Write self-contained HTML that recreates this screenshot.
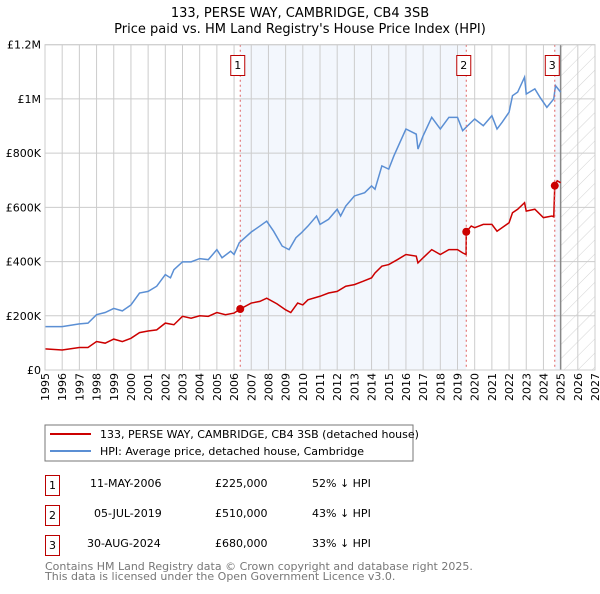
<!DOCTYPE html>
<html><head><meta charset="utf-8"><style>
body{margin:0;background:#fff;font-family:"DejaVu Sans","Liberation Sans",sans-serif;}
svg text{font-family:"DejaVu Sans","Liberation Sans",sans-serif;}
</style></head><body>
<svg id="c" width="600" height="590" xmlns="http://www.w3.org/2000/svg">
<defs><pattern id="h" width="10" height="10" patternUnits="userSpaceOnUse" patternTransform="rotate(45)"><line x1="0" y1="0" x2="0" y2="10" stroke="#d4d4d4" stroke-width="1"/></pattern></defs>
<text x="300" y="17" text-anchor="middle" font-size="13">133, PERSE WAY, CAMBRIDGE, CB4 3SB</text>
<text x="300" y="33" text-anchor="middle" font-size="13">Price paid vs. HM Land Registry's House Price Index (HPI)</text>
<g id="plot"></g>
<rect x="45" y="425" width="368" height="36" fill="#fff" stroke="#777"/>
<line x1="50" y1="434" x2="91" y2="434" stroke="#cc0000" stroke-width="2"/>
<text x="100" y="438" font-size="11">133, PERSE WAY, CAMBRIDGE, CB4 3SB (detached house)</text>
<line x1="50" y1="451" x2="91" y2="451" stroke="#5b8fd4" stroke-width="2"/>
<text x="100" y="455" font-size="11">HPI: Average price, detached house, Cambridge</text>
<g font-size="11">
<rect x="45.5" y="475.5" width="14" height="20" fill="none" stroke="#b00"/><text x="52.5" y="489" text-anchor="middle">1</text>
<text x="90" y="487">11-MAY-2006</text><text x="215" y="487">£225,000</text><text x="312" y="487">52% ↓ HPI</text>
<rect x="45.5" y="505.5" width="14" height="20" fill="none" stroke="#b00"/><text x="52.5" y="519" text-anchor="middle">2</text>
<text x="94" y="517">05-JUL-2019</text><text x="215" y="517">£510,000</text><text x="312" y="517">43% ↓ HPI</text>
<rect x="45.5" y="535.5" width="14" height="20" fill="none" stroke="#b00"/><text x="52.5" y="549" text-anchor="middle">3</text>
<text x="87" y="547">30-AUG-2024</text><text x="215" y="547">£680,000</text><text x="312" y="547">33% ↓ HPI</text>
</g>
<text x="45" y="570" font-size="11" fill="#777">Contains HM Land Registry data © Crown copyright and database right 2025.</text>
<text x="45" y="580" font-size="11" fill="#777">This data is licensed under the Open Government Licence v3.0.</text>
</svg>
<script>
const yTicks=[0,200000,400000,600000,800000,1000000,1200000];
const yLabels=["£0","£200K","£400K","£600K","£800K","£1M","£1.2M"];
const years=[1995,1996,1997,1998,1999,2000,2001,2002,2003,2004,2005,2006,2007,2008,2009,2010,2011,2012,2013,2014,2015,2016,2017,2018,2019,2020,2021,2022,2023,2024,2025,2026,2027];
const hpiT=[1995,1996,1997,1997.5,1998,1998.5,1999,1999.5,2000,2000.5,2001,2001.5,2002,2002.3,2002.5,2003,2003.5,2004,2004.5,2005,2005.3,2005.8,2006,2006.3,2007,2007.5,2007.9,2008.3,2008.8,2009.2,2009.6,2009.9,2010.3,2010.8,2011,2011.5,2012,2012.2,2012.5,2013,2013.6,2014,2014.2,2014.6,2015,2015.3,2016,2016.6,2016.7,2017,2017.5,2018,2018.5,2019,2019.3,2019.8,2020,2020.5,2021,2021.3,2021.6,2022,2022.2,2022.5,2022.9,2023,2023.5,2023.8,2024.2,2024.6,2024.7,2025];
const hpiV=[160,160,170,173,204,212,227,218,240,284,290,309,352,340,370,399,399,411,407,444,414,438,426,469,509,531,549,512,457,444,488,505,531,568,537,556,593,568,605,642,654,679,667,753,741,790,889,870,815,864,932,889,932,932,883,914,926,901,938,889,914,951,1012,1025,1080,1018,1037,1006,969,1000,1049,1025];
const ppT=[1995,1996,1997,1997.5,1998,1998.5,1999,1999.5,2000,2000.5,2001,2001.5,2002,2002.5,2003,2003.5,2004,2004.5,2005,2005.5,2006,2006.36,2007,2007.5,2007.9,2008.5,2009,2009.3,2009.7,2010,2010.3,2011,2011.5,2012,2012.5,2013,2013.5,2014,2014.2,2014.6,2015,2015.5,2016,2016.6,2016.7,2017,2017.5,2018,2018.5,2019,2019.3,2019.5,2019.51,2019.8,2020,2020.5,2021,2021.3,2022,2022.2,2022.5,2022.9,2023,2023.5,2024,2024.5,2024.6,2024.66,2024.8,2025];
const ppV=[78,74,83,83,105,99,114,105,117,138,144,148,173,167,198,191,200,198,212,204,210,225,247,253,265,244,222,212,247,240,259,272,284,290,309,315,327,340,358,383,389,407,426,420,395,414,444,426,444,444,432,426,510,531,525,537,537,512,543,580,593,617,586,593,562,568,565,680,698,691];
const saleT=[2006.36,2019.51,2024.66];
const saleV=[225000,510000,680000];
const saleLabels=["1","2","3"];
const L=45,R=595,T=44.7,B=370;
const x=t=>L+(t-1995)*(R-L)/32;
const y=v=>B-v*(B-T)/1200000;
const NS="http://www.w3.org/2000/svg";
const g=document.getElementById('plot');
function mk(tag,a){const e=document.createElementNS(NS,tag);for(const k in a)e.setAttribute(k,a[k]);g.appendChild(e);return e;}
let e;
e=mk('rect',{x:x(saleT[0]),y:T,width:x(saleT[1])-x(saleT[0]),height:B-T,fill:'#eef3fc',opacity:0.7});


e=mk('rect',{x:x(saleT[2]),y:T,width:x(2025)-x(saleT[2]),height:B-T,fill:'#eef3fc',opacity:0.7});


e=mk('rect',{x:x(2025),y:T,width:R-x(2025),height:B-T,fill:'url(#h)'});


years.forEach(yr=>{
 e=mk('line',{x1:x(yr),x2:x(yr),y1:T,y2:B,stroke:'#ccc'});
 
 
 e=mk('text',{x:0,y:0,'font-size':11,'text-anchor':'end',transform:`translate(${x(yr)+4},${B+3}) rotate(-90)`});
 e.textContent=yr;
 
 
});
yTicks.forEach((v,i)=>{
 e=mk('line',{x1:L,x2:R,y1:y(v),y2:y(v),stroke:'#ccc'});
 
 
 e=mk('text',{x:L-4,y:y(v)+4,'font-size':11,'text-anchor':'end'});
 e.textContent=yLabels[i];
 
 
});
e=mk('line',{x1:x(2025),x2:x(2025),y1:T,y2:B,stroke:'#888','stroke-width':1.5});


e=mk('polyline',{points:hpiT.map((t,i)=>x(t)+','+y(hpiV[i]*1000)).join(' '),fill:'none',stroke:'#5b8fd4','stroke-width':1.5});


e=mk('polyline',{points:ppT.map((t,i)=>x(t)+','+y(ppV[i]*1000)).join(' '),fill:'none',stroke:'#cc0000','stroke-width':1.5});


saleT.forEach((t,i)=>{
 e=mk('line',{x1:x(t),x2:x(t),y1:T,y2:B,stroke:'#e06060','stroke-dasharray':'2,3'});
 
 
 e=mk('circle',{cx:x(t),cy:y(saleV[i]),r:4,fill:'#cc0000'});
 
 
 e=mk('rect',{x:x(t)-9.5,y:55.5,width:14,height:20,fill:'#fff',stroke:'#b00'});
 
 
 e=mk('text',{x:x(t)-2.5,y:69,'font-size':11,'text-anchor':'middle'});
 e.textContent=saleLabels[i];
 
 
});
e=mk('rect',{x:L,y:T,width:R-L,height:B-T,fill:'none',stroke:'#ccc'});


</script>
</body></html>
